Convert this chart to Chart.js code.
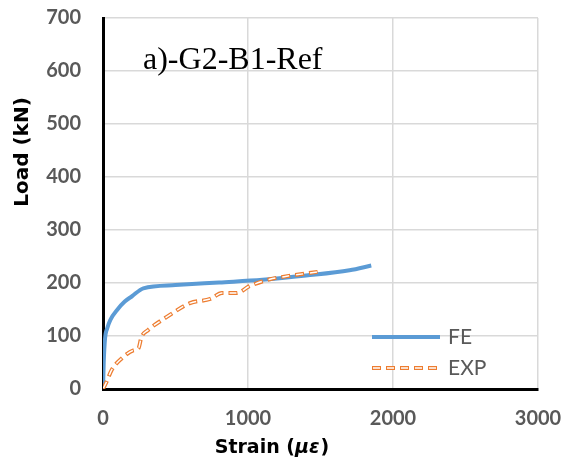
<!DOCTYPE html>
<html>
<head>
<meta charset="utf-8">
<script src="https://cdn.jsdelivr.net/npm/chart.js@4.4.0/dist/chart.umd.min.js"></script>
<style>
  html, body { margin: 0; padding: 0; background: #fff; }
  #wrap { width: 562px; height: 464px; }
</style>
</head>
<body>
<div id="wrap"><canvas id="chart" width="562" height="464"></canvas></div>
<script>
// データ
const feStrain = [0, 5, 14, 30, 50, 100, 150, 200, 278, 500, 800, 1100, 1400, 1700, 1850];
const feLoad   = [0, 50, 95, 115, 130, 150, 165, 175, 190, 196, 201, 206, 214, 224, 233];
const expStrain = [0, 25, 60, 130, 210, 245, 265, 310, 440, 600, 740, 820, 920, 1010, 1150, 1250, 1480];
const expLoad   = [0, 14, 36, 58, 73, 77, 98, 111, 136, 162, 170, 181, 181, 194, 207, 212, 221];
const xTicks = [0, 1000, 2000, 3000];
const yTicks = [0, 100, 200, 300, 400, 500, 600, 700];
const seriesNames = ['FE', 'EXP'];
const chartLabel = 'a)-G2-B1-Ref';

const blue = '#5B9BD5';
const orange = '#ED7D31';

const toPoints = (xs, ys) => xs.map((x, i) => ({ x: x, y: ys[i] }));

// 凡例・注記をキャンバスに描く
const annotate = {
  id: 'annotate',
  afterDraw(chart) {
    const ctx = chart.ctx;
    ctx.save();
    // チャート内ラベル
    ctx.fillStyle = '#000';
    ctx.font = '32px "Liberation Serif"';
    ctx.textBaseline = 'alphabetic';
    ctx.textAlign = 'left';
    ctx.fillText(chartLabel, 143, 69);

    // 軸タイトル
    ctx.font = 'bold 20px "DejaVu Sans"';
    ctx.textAlign = 'center';
    ctx.textBaseline = 'middle';
    ctx.save();
    ctx.translate(23, 152);
    ctx.rotate(-Math.PI / 2);
    ctx.fillText('Load (kN)', 0, 0);
    ctx.restore();

    ctx.textAlign = 'left';
    ctx.font = 'bold 19px "DejaVu Sans"';
    const s1 = 'Strain (';
    const w1 = ctx.measureText(s1).width;
    ctx.font = 'italic bold 19px "DejaVu Sans"';
    const w2 = ctx.measureText('\u03bc\u03b5').width;
    ctx.font = 'bold 19px "DejaVu Sans"';
    const w3 = ctx.measureText(')').width;
    let tx = 272 - (w1 + w2 + w3 + 1) / 2;
    ctx.fillText(s1, tx, 448);
    tx += w1;
    ctx.font = 'italic bold 19px "DejaVu Sans"';
    ctx.fillText('\u03bc\u03b5', tx, 448);
    tx += w2 + 1;
    ctx.font = 'bold 19px "DejaVu Sans"';
    ctx.fillText(')', tx, 448);

    // 凡例
    const legendY = [337, 368];
    ctx.lineWidth = 4;
    ctx.strokeStyle = blue;
    ctx.beginPath();
    ctx.moveTo(372, legendY[0]);
    ctx.lineTo(440, legendY[0]);
    ctx.stroke();

    ctx.strokeStyle = orange;
    ctx.setLineDash([9, 5]);
    ctx.beginPath();
    ctx.moveTo(372, legendY[1]);
    ctx.lineTo(440, legendY[1]);
    ctx.stroke();
    ctx.strokeStyle = '#fff';
    ctx.lineWidth = 1.5;
    ctx.setLineDash([7, 7]);
    ctx.lineDashOffset = -1;
    ctx.beginPath();
    ctx.moveTo(372, legendY[1]);
    ctx.lineTo(440, legendY[1]);
    ctx.stroke();
    ctx.setLineDash([]);

    ctx.fillStyle = '#595959';
    ctx.font = '21px Lato';
    ctx.textAlign = 'left';
    ctx.textBaseline = 'middle';
    ctx.fillText(seriesNames[0], 448, legendY[0]);
    ctx.fillText(seriesNames[1], 448, legendY[1]);
    ctx.restore();
  }
};

new Chart(document.getElementById('chart'), {
  type: 'line',
  data: {
    datasets: [
      {
        label: seriesNames[0],
        data: toPoints(feStrain, feLoad),
        borderColor: blue,
        borderWidth: 4,
        pointRadius: 0,
        cubicInterpolationMode: 'monotone',
        order: 2
      },
      {
        label: seriesNames[1],
        data: toPoints(expStrain, expLoad),
        borderColor: orange,
        borderWidth: 4,
        borderDash: [9, 5],
        pointRadius: 0,
        cubicInterpolationMode: 'monotone',
        order: 1
      },
      {
        label: seriesNames[1] + '-inner',
        data: toPoints(expStrain, expLoad),
        borderColor: '#fff',
        borderWidth: 1.5,
        borderDash: [7, 7],
        borderDashOffset: -1,
        pointRadius: 0,
        cubicInterpolationMode: 'monotone',
        order: 0
      }
    ]
  },
  options: {
    responsive: false,
    animation: false,
    layout: { padding: { left: 0, top: 18, right: 24, bottom: 0 } },
    plugins: {
      legend: { display: false },
      tooltip: { enabled: false }
    },
    scales: {
      x: {
        type: 'linear',
        min: 0,
        max: 3000,
        afterBuildTicks: s => { s.ticks = xTicks.map(v => ({ value: v })); },
        afterFit: s => { s.height = 75; s.paddingLeft = 0; s.paddingRight = 0; },
        ticks: {
          padding: 18,
          color: '#595959',
          font: { family: 'Lato', size: 20, weight: 'bold' },
          callback: v => String(v)
        },
        grid: { color: '#d9d9d9', lineWidth: 1.5, drawTicks: false },
        border: { color: '#000', width: 3 }
      },
      y: {
        min: 0,
        max: 700,
        afterBuildTicks: s => { s.ticks = yTicks.map(v => ({ value: v })); },
        afterFit: s => { s.width = 103; s.paddingTop = 0; s.paddingBottom = 0; },
        ticks: {
          padding: 22,
          color: '#595959',
          font: { family: 'Lato', size: 20, weight: 'bold' },
          callback: v => String(v)
        },
        grid: { color: '#d9d9d9', lineWidth: 1.5, drawTicks: false },
        border: { color: '#000', width: 3 }
      }
    }
  },
  plugins: [annotate]
});
</script>
</body>
</html>
